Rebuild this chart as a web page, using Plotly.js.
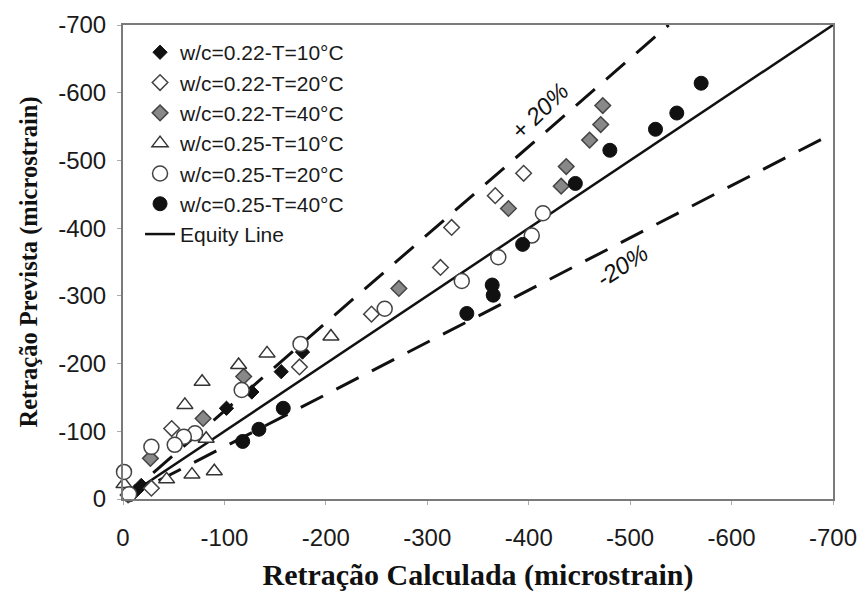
<!DOCTYPE html>
<html>
<head>
<meta charset="utf-8">
<script src="https://cdn.plot.ly/plotly-3.0.1.min.js"></script>
<style>html,body{margin:0;padding:0;background:#fff;}#chart{width:862px;height:596px;}</style>
</head>
<body>
<div id="chart"></div>
<script>
// ---- data (microstrain) ----
const names = [
  "w/c=0.22-T=10°C",
  "w/c=0.22-T=20°C",
  "w/c=0.22-T=40°C",
  "w/c=0.25-T=10°C",
  "w/c=0.25-T=20°C",
  "w/c=0.25-T=40°C"
];
const s1X = [-177, -156, -127, -102, -18, -12];
const s1Y = [-217, -188, -158, -134, -20, -11];
const s2X = [-395, -367, -324, -313, -245, -174, -48, -28, -5];
const s2Y = [-481, -448, -401, -342, -273, -195, -104, -16, -6];
const s3X = [-473, -471, -460, -437, -432, -380, -272, -119, -79, -27];
const s3Y = [-581, -553, -530, -491, -462, -429, -311, -181, -119, -60];
const s4X = [-205, -142, -114, -78, -61, -82, -68, -90, -43, -1];
const s4Y = [-240, -215, -198, -173, -139, -89, -36, -41, -29, -22];
const s5X = [-414, -403, -370, -334, -258, -175, -117, -71, -60, -51, -28, -1, -6];
const s5Y = [-422, -389, -357, -322, -281, -229, -161, -97, -92, -80, -77, -40, -7];
const s6X = [-570, -546, -525, -480, -446, -394, -364, -365, -339, -158, -134, -118];
const s6Y = [-614, -570, -546, -515, -466, -376, -316, -301, -274, -134, -103, -85];
const equityX = [0, -700];
const equityY = [0, -700];
const plusX = [0, -538];
const plusY = [0, -700];
const minusX = [0, -700];
const minusY = [0, -540];
const tickVals = [0, -100, -200, -300, -400, -500, -600, -700];
const tickText = ["0", "-100", "-200", "-300", "-400", "-500", "-600", "-700"];
const plusLabel = "+ 20%";
const minusLabel = "-20%";
const xTitle = "Retração Calculada (microstrain)";
const yTitle = "Retração Prevista (microstrain)";

// ---- traces ----
const dashLine = {color: "#111", width: 3, dash: "25px,15px"};
const traces = [
  {x: plusX, y: plusY, mode: "lines", line: dashLine, showlegend: false, hoverinfo: "skip"},
  {x: minusX, y: minusY, mode: "lines", line: dashLine, showlegend: false, hoverinfo: "skip"},
  {x: equityX, y: equityY, mode: "lines", name: "Equity Line", legendrank: 7,
   line: {color: "#111", width: 2.5}},
  {x: s1X, y: s1Y, mode: "markers", name: names[0], legendrank: 1,
   marker: {symbol: "diamond", size: 11, color: "#111", line: {color: "#111", width: 1}}},
  {x: s2X, y: s2Y, mode: "markers", name: names[1], legendrank: 2,
   marker: {symbol: "diamond", size: 12, color: "#fff", line: {color: "#444", width: 1.5}}},
  {x: s3X, y: s3Y, mode: "markers", name: names[2], legendrank: 3,
   marker: {symbol: "diamond", size: 12, color: "#888", line: {color: "#444", width: 1.5}}},
  {x: s4X, y: s4Y, mode: "markers", name: names[3], legendrank: 4,
   marker: {symbol: "triangle-up", size: 14, color: "#fff", line: {color: "#333", width: 1.5}}},
  {x: s5X, y: s5Y, mode: "markers", name: names[4], legendrank: 5,
   marker: {symbol: "circle", size: 15, color: "#fff", line: {color: "#444", width: 1.5}}},
  {x: s6X, y: s6Y, mode: "markers", name: names[5], legendrank: 6,
   marker: {symbol: "circle", size: 14, color: "#111", line: {color: "#111", width: 1}}}
];
traces.forEach(t => { t.cliponaxis = false; });

const axisCommon = {
  showgrid: false, zeroline: false,
  showline: true, linecolor: "#7a7a7a", linewidth: 2, mirror: true,
  ticks: "outside", ticklen: 4, tickcolor: "#aaa", tickwidth: 1,
  tickmode: "array", tickvals: tickVals, ticktext: tickText,
  tickfont: {family: "Liberation Sans, Arial, sans-serif", size: 24, color: "#1a1a1a"}
};

const layout = {
  width: 862, height: 596,
  margin: {l: 123, r: 29, t: 25, b: 97},
  paper_bgcolor: "#fff", plot_bgcolor: "#fff",
  showlegend: true,
  legend: {
    x: 0.024, y: 0.985, xanchor: "left", yanchor: "top",
    bgcolor: "rgba(0,0,0,0)", borderwidth: 0,
    font: {family: "Liberation Sans, Arial, sans-serif", size: 21, color: "#1a1a1a"}
  },
  xaxis: Object.assign({}, axisCommon, {
    range: [0, -700],
    ticklabelstandoff: 12,
    title: {text: xTitle, standoff: 14,
      font: {family: "Liberation Serif, Times New Roman, serif", size: 30, color: "#111", weight: "bold"}}
  }),
  yaxis: Object.assign({}, axisCommon, {
    range: [0, -700],
    ticklabelstandoff: 6,
    title: {text: yTitle, standoff: 14,
      font: {family: "Liberation Serif, Times New Roman, serif", size: 24.5, color: "#111", weight: "bold"}}
  }),
  annotations: [
    {x: -411, y: -574, xref: "x", yref: "y", text: plusLabel, showarrow: false, textangle: -44,
     font: {family: "Liberation Sans, Arial, sans-serif", size: 24, color: "#111", style: "italic"}},
    {x: -492, y: -345, xref: "x", yref: "y", text: minusLabel, showarrow: false, textangle: -33,
     font: {family: "Liberation Sans, Arial, sans-serif", size: 24, color: "#111", style: "italic"}}
  ]
};

Plotly.newPlot("chart", traces, layout, {displayModeBar: false, staticPlot: true});
</script>
</body>
</html>
